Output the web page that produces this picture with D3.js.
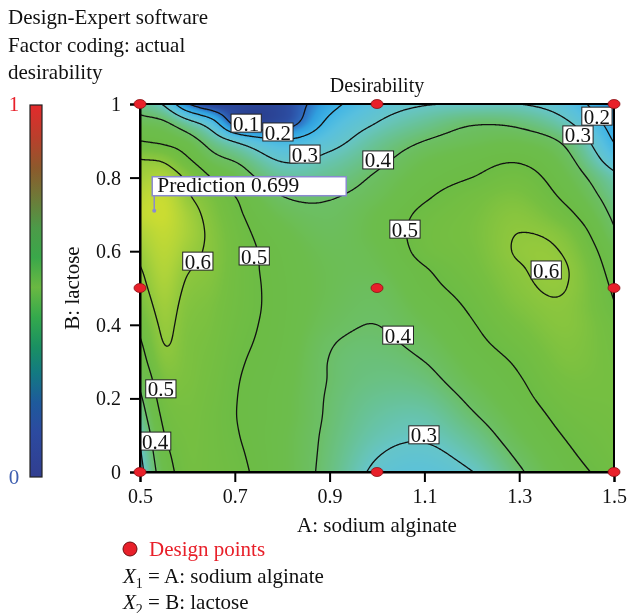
<!DOCTYPE html>
<html>
<head>
<meta charset="utf-8">
<script src="https://cdn.jsdelivr.net/npm/d3@7"></script>
<style>
  body { margin: 0; background: #fff; }
  #wrap { position: relative; width: 630px; height: 613px; overflow: hidden; }
  #wrap canvas, #wrap svg { position: absolute; left: 0; top: 0; }
  svg, svg text, svg tspan { font-family: "Liberation Serif", "DejaVu Serif", serif; }
</style>
</head>
<body>
<div id="wrap">
  <canvas id="field" width="630" height="613"></canvas>
  <svg id="chart" width="630" height="613" font-family="Liberation Serif, DejaVu Serif, serif"></svg>
</div>
<script>
// ---- Factor settings of the desirability grid ----
// A: sodium alginate (columns), B: lactose (rows, bottom to top)
const sodiumAlginate = [0.5, 0.55, 0.6, 0.65, 0.7, 0.8, 0.9, 1.0, 1.1, 1.2, 1.3, 1.4, 1.5];
const lactose = [0, 0.05, 0.1, 0.15, 0.2, 0.25, 0.3, 0.35, 0.4, 0.45, 0.5,
                 0.55, 0.6, 0.65, 0.7, 0.75, 0.8, 0.85, 0.9, 0.95, 1.0];

// Desirability along lactose for each sodium alginate level
const dA050 = [.27,.29,.31,.35,.385,.42,.46,.49,.52,.55,.575,.595,.62,.65,.685,.67,.635,.60,.50,.43,.36];
const dA055 = [.45,.47,.495,.515,.535,.555,.58,.60,.612,.625,.64,.655,.67,.685,.70,.69,.65,.585,.48,.41,.29];
const dA060 = [.535,.54,.545,.55,.555,.56,.563,.565,.57,.578,.59,.605,.625,.64,.635,.61,.585,.51,.44,.33,.11];
const dA065 = [.53,.53,.53,.53,.535,.54,.545,.55,.555,.56,.57,.58,.585,.585,.575,.555,.50,.43,.36,.24,.02];
const dA070 = [.515,.51,.505,.502,.503,.506,.511,.517,.523,.528,.531,.533,.535,.53,.518,.50,.45,.39,.29,.07,.02];
const dA080 = [.455,.455,.455,.46,.461,.465,.47,.475,.478,.48,.48,.477,.472,.458,.434,.40,.35,.29,.21,.05,.03];
const dA090 = [.375,.38,.385,.39,.393,.397,.398,.405,.42,.43,.435,.435,.43,.42,.41,.395,.36,.32,.27,.22,.17];
const dA100 = [.285,.305,.325,.34,.355,.37,.38,.39,.40,.41,.42,.435,.445,.455,.45,.43,.41,.38,.345,.30,.26];
const dA110 = [.265,.285,.31,.33,.355,.38,.40,.42,.44,.46,.48,.495,.52,.525,.515,.49,.465,.44,.40,.35,.295];
const dA120 = [.298,.33,.36,.39,.415,.44,.46,.48,.495,.51,.525,.54,.55,.555,.55,.535,.50,.47,.43,.39,.30];
const dA130 = [.39,.415,.44,.46,.48,.495,.51,.53,.55,.57,.585,.595,.605,.60,.585,.56,.53,.49,.44,.38,.30];
const dA140 = [.475,.49,.505,.52,.535,.55,.565,.575,.585,.59,.60,.603,.59,.565,.52,.48,.45,.42,.38,.31,.25];
const dA150 = [.52,.53,.535,.54,.545,.545,.54,.535,.525,.505,.49,.47,.445,.41,.385,.36,.325,.25,.195,.16,.12];
const desirabilityColumns = [dA050, dA055, dA060, dA065, dA070, dA080, dA090,
                             dA100, dA110, dA120, dA130, dA140, dA150];

// Design points of the experiment
const designA = [0.5, 1.0, 1.5, 0.5, 1.0, 1.5, 0.5, 1.0, 1.5];
const designB = [1.0, 1.0, 1.0, 0.5, 0.5, 0.5, 0, 0, 0];

// Contour levels and where their labels sit (A, B)
const contourLevels = [0.1, 0.2, 0.3, 0.4, 0.5, 0.6];
const labelLevel = [0.1, 0.2, 0.3, 0.4, 0.2, 0.3, 0.5, 0.6, 0.4, 0.3, 0.6, 0.5, 0.5, 0.4];
const labelA = [0.724, 0.791, 0.848, 1.002, 1.464, 1.424, 1.059, 1.357, 1.044, 1.099, 0.622, 0.741, 0.544, 0.532];
const labelB = [0.948, 0.924, 0.864, 0.848, 0.967, 0.916, 0.660, 0.549, 0.372, 0.101, 0.573, 0.587, 0.226, 0.084];

// Prediction flag
const predictionA = 0.53, predictionB = 0.71, predictionValue = 0.699;

// Axis ticks
const xTicks = [0.5, 0.7, 0.9, 1.1, 1.3, 1.5];
const yTicks = [0, 0.2, 0.4, 0.6, 0.8, 1];

// Colour ramp of the response surface
const rampStops  = [0.0, 0.05, 0.10, 0.15, 0.20, 0.25, 0.30, 0.35, 0.40, 0.45, 0.50, 0.55, 0.60, 0.65, 0.70];
const rampColors = ["#2a3f8f", "#2c4ea3", "#2f6cc0", "#309fde", "#3fb4e6", "#58c0de", "#66c5c8",
                    "#68c296", "#6cbf66", "#6cbd4c", "#6cbc45", "#76bf41", "#8ec73d", "#aed33a", "#cadc32"];
// Legend bar ramp (top = 1, bottom = 0)
const barOffsets = [0, 0.09, 0.17, 0.25, 0.33, 0.41, 0.49, 0.57, 0.65, 0.72, 0.80, 0.88, 1];
const barColors  = ["#e42a2c", "#b8402c", "#8c5a2c", "#6e7a38", "#4c9a48", "#3aa84a", "#6ab842",
                    "#34a94c", "#1a9062", "#137a82", "#1e5a9c", "#2c4aa0", "#313e90"];

// ---- layout ----
const plot = { left: 140, right: 614, top: 104, bottom: 472 };
const x = d3.scaleLinear().domain([0.5, 1.5]).range([plot.left, plot.right]);
const y = d3.scaleLinear().domain([0, 1]).range([plot.bottom, plot.top]);
const FONT = '"Liberation Serif", "DejaVu Serif", serif';

// Hermite interpolation through knots with three-point slopes
function hermite(xs, ys) {
  const n = xs.length, h = [], d = [], m = new Array(n);
  for (let i = 0; i < n - 1; i++) { h[i] = xs[i + 1] - xs[i]; d[i] = (ys[i + 1] - ys[i]) / h[i]; }
  m[0] = d[0]; m[n - 1] = d[n - 2];
  for (let i = 1; i < n - 1; i++) m[i] = (d[i - 1] * h[i] + d[i] * h[i - 1]) / (h[i - 1] + h[i]);
  return function (v) {
    let i = d3.bisectRight(xs, v) - 1;
    i = Math.max(0, Math.min(n - 2, i));
    const t = (v - xs[i]) / h[i], t2 = t * t, t3 = t2 * t;
    return (2 * t3 - 3 * t2 + 1) * ys[i] + (t3 - 2 * t2 + t) * h[i] * m[i]
         + (-2 * t3 + 3 * t2) * ys[i + 1] + (t3 - t2) * h[i] * m[i + 1];
  };
}

// Sample the surface at every pixel of the plot area
const W = plot.right - plot.left, H = plot.bottom - plot.top;
const colFns = desirabilityColumns.map(col => hermite(lactose, col));
const field = new Float64Array(W * H);
for (let j = 0; j < H; j++) {
  const b = y.invert(plot.top + j + 0.5);
  const rowVals = colFns.map(f => f(b));
  const rowFn = hermite(sodiumAlginate, rowVals);
  for (let i = 0; i < W; i++) {
    const a = x.invert(plot.left + i + 0.5);
    field[j * W + i] = Math.max(0, Math.min(1, rowFn(a)));
  }
}

// Paint the colour field
const ramp = d3.scaleLinear().domain(rampStops).range(rampColors).interpolate(d3.interpolateRgb).clamp(true);
const ctx = document.getElementById("field").getContext("2d");
const img = ctx.createImageData(W, H);
for (let k = 0; k < W * H; k++) {
  const c = d3.rgb(ramp(field[k]));
  img.data[4 * k] = c.r; img.data[4 * k + 1] = c.g; img.data[4 * k + 2] = c.b; img.data[4 * k + 3] = 255;
}
ctx.putImageData(img, plot.left, plot.top);

const svg = d3.select("#chart");
const defs = svg.append("defs");
defs.append("clipPath").attr("id", "plotClip").append("rect")
  .attr("x", plot.left).attr("y", plot.top).attr("width", W).attr("height", H);

// Contour lines
const gridX = d3.scaleLinear().domain([0, W]).range([plot.left, plot.right]);
const gridY = d3.scaleLinear().domain([0, H]).range([plot.top, plot.bottom]);
const contourPath = d3.geoPath(d3.geoTransform({
  point(px, py) { this.stream.point(gridX(px), gridY(py)); }
}));
const contours = d3.contours().size([W, H]).thresholds(contourLevels)(Array.from(field));
svg.append("g").attr("clip-path", "url(#plotClip)")
  .selectAll("path").data(contours).join("path")
  .attr("d", contourPath)
  .attr("fill", "none").attr("stroke", "#111").attr("stroke-width", 1.3)
  .attr("stroke-linejoin", "round");

// Contour labels
const labels = svg.append("g");
labelLevel.forEach((lv, i) => {
  const g = labels.append("g").attr("transform", `translate(${x(labelA[i])},${y(labelB[i])})`);
  const t = g.append("text").attr("text-anchor", "middle").attr("dy", "0.36em")
    .attr("font-size", 21).style("font-family", FONT).attr("fill", "#111").text(d3.format(".1f")(lv));
  const bb = t.node().getBBox();
  g.insert("rect", "text").attr("x", bb.x - 2).attr("y", -9).attr("width", bb.width + 4).attr("height", 18)
    .attr("fill", "#fff").attr("stroke", "#222").attr("stroke-width", 1);
});

// Frame and axes
svg.append("rect").attr("x", plot.left).attr("y", plot.top).attr("width", W).attr("height", H)
  .attr("fill", "none").attr("stroke", "#000").attr("stroke-width", 2);

const yAxis = svg.append("g").attr("transform", `translate(${plot.left},0)`)
  .call(d3.axisLeft(y).tickValues(yTicks).tickSize(10).tickPadding(9).tickFormat(d3.format("")));
const xAxis = svg.append("g").attr("transform", `translate(0,${plot.bottom})`)
  .call(d3.axisBottom(x).tickValues(xTicks).tickSize(10).tickPadding(7).tickFormat(d3.format(".1f")));
[yAxis, xAxis].forEach(ax => {
  ax.select(".domain").attr("stroke", "#000").attr("stroke-width", 2);
  ax.selectAll(".tick line").attr("stroke", "#000").attr("stroke-width", 2);
  ax.selectAll(".tick text").attr("font-size", 20).attr("fill", "#111").style("font-family", FONT);
});

// Design points
svg.append("g").selectAll("ellipse").data(designA.map((a, i) => [a, designB[i]])).join("ellipse")
  .attr("cx", d => x(d[0])).attr("cy", d => y(d[1])).attr("rx", 6).attr("ry", 4.5)
  .attr("fill", "#e8202a").attr("stroke", "#8a1014").attr("stroke-width", 0.8);

// Prediction flag
const fpx = x(predictionA), fpy = y(predictionB);
const flag = svg.append("g");
flag.append("line").attr("x1", fpx).attr("x2", fpx).attr("y1", fpy).attr("y2", fpy - 15)
  .attr("stroke", "#8a8ad0").attr("stroke-width", 1.5);
flag.append("rect").attr("x", fpx - 2).attr("y", fpy - 34).attr("width", 194).attr("height", 19)
  .attr("fill", "#fff").attr("stroke", "#8a8ad0").attr("stroke-width", 1.5);
flag.append("text").attr("x", fpx + 3).attr("y", fpy - 18.5).attr("font-size", 21.5).attr("fill", "#111")
  .style("font-family", FONT).text(`Prediction ${predictionValue}`);
flag.append("circle").attr("cx", fpx).attr("cy", fpy).attr("r", 2).attr("fill", "#8a8ad0");

// Titles
svg.append("text").attr("x", (plot.left + plot.right) / 2).attr("y", 92).attr("text-anchor", "middle")
  .attr("font-size", 20).attr("fill", "#111").style("font-family", FONT).text("Desirability");
svg.append("text").attr("x", (plot.left + plot.right) / 2).attr("y", 532).attr("text-anchor", "middle")
  .attr("font-size", 21).attr("fill", "#111").style("font-family", FONT).text("A: sodium alginate");
svg.append("text").attr("transform", `translate(79,${(plot.top + plot.bottom) / 2}) rotate(-90)`)
  .attr("text-anchor", "middle").attr("font-size", 21).attr("fill", "#111").style("font-family", FONT)
  .text("B: lactose");

// Header
const header = ["Design-Expert software", "Factor coding: actual", "desirability"];
svg.append("g").selectAll("text").data(header).join("text")
  .attr("x", 8).attr("y", (d, i) => 24 + i * 27.5).attr("font-size", 21).attr("fill", "#111")
  .style("font-family", FONT).text(d => d);

// Colour legend bar
const grad = defs.append("linearGradient").attr("id", "barGrad")
  .attr("x1", 0).attr("x2", 0).attr("y1", 0).attr("y2", 1);
barOffsets.forEach((o, i) => grad.append("stop").attr("offset", o).attr("stop-color", barColors[i]));
svg.append("rect").attr("x", 30).attr("y", 105).attr("width", 12).attr("height", 372)
  .attr("fill", "url(#barGrad)").attr("stroke", "#222").attr("stroke-width", 1.2);
svg.append("text").attr("x", 14).attr("y", 111).attr("font-size", 21).attr("fill", "#e8202a")
  .attr("text-anchor", "middle").style("font-family", FONT).text("1");
svg.append("text").attr("x", 14).attr("y", 484).attr("font-size", 21).attr("fill", "#3f5fb0")
  .attr("text-anchor", "middle").style("font-family", FONT).text("0");

// Bottom legend
svg.append("circle").attr("cx", 130).attr("cy", 549).attr("r", 7)
  .attr("fill", "#e8202a").attr("stroke", "#6a0c0e").attr("stroke-width", 1);
svg.append("text").attr("x", 149).attr("y", 556).attr("font-size", 21).attr("fill", "#e8202a")
  .style("font-family", FONT).text("Design points");
const factorLines = [["1", "A: sodium alginate"], ["2", "B: lactose"]];
factorLines.forEach((f, i) => {
  const t = svg.append("text").attr("x", 123).attr("y", 583 + i * 26).attr("font-size", 21)
    .attr("fill", "#111").style("font-family", FONT);
  t.append("tspan").attr("font-style", "italic").style("font-family", FONT).text("X");
  t.append("tspan").attr("font-size", 14).attr("dy", 5).style("font-family", FONT).text(f[0]);
  t.append("tspan").attr("dy", -5).style("font-family", FONT).text(" = " + f[1]);
});
</script>
</body>
</html>
